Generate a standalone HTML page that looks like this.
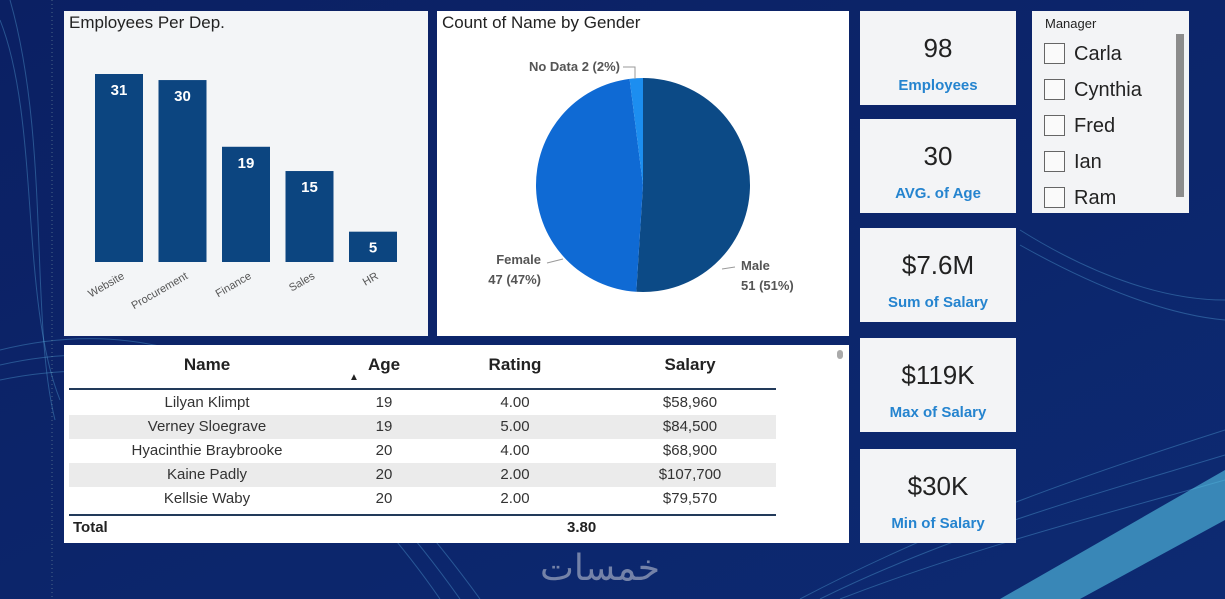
<!DOCTYPE html>
<html><head><meta charset="utf-8">
<style>
*{margin:0;padding:0;box-sizing:border-box}
body{width:1225px;height:599px;overflow:hidden;background:#0d2467;font-family:"Liberation Sans","Noto Sans CJK SC",sans-serif;position:relative}
.p{position:absolute}
.panel{background:#f3f5f7}
.kpi{position:absolute;left:860px;width:156px;height:94px;background:#f3f4f6;text-align:center}
.kpi .v{font-size:26px;color:#222;margin-top:22px;line-height:30px}
.kpi .l{font-size:15px;font-weight:bold;color:#2584cf;margin-top:14px}
.row{position:absolute;left:69px;width:707px;height:24px;font-size:15px;color:#333}
.row span{position:absolute;top:3px;transform:translateX(-50%);white-space:nowrap}
.cb{position:absolute;left:1044px;width:21px;height:21px;border:1.5px solid #666;background:#fafafa}
.cbl{position:absolute;left:1074px;font-size:20px;color:#222}
</style></head><body>
<svg class="p" style="left:0;top:0" width="1225" height="599">
<defs><linearGradient id="bg" x1="0" y1="0" x2="1" y2="1"><stop offset="0" stop-color="#0b2063"/><stop offset="1" stop-color="#0d2a72"/></linearGradient></defs>
<rect width="1225" height="599" fill="url(#bg)"/>
<g fill="none" stroke="#5fb4e6" stroke-opacity="0.35" stroke-width="1">
<path d="M0 350 C200 300 350 420 480 599"/><path d="M0 365 C200 320 340 430 460 599"/><path d="M0 380 C190 340 330 440 440 599"/>
<path d="M0 20 C40 120 20 300 60 400"/><path d="M10 0 C50 140 30 320 55 420"/>
<path d="M800 599 C950 520 1100 470 1225 430"/><path d="M820 599 C960 530 1110 490 1225 455"/><path d="M840 599 C980 545 1120 510 1225 480"/>
<path d="M1020 230 C1100 280 1170 300 1225 300"/><path d="M1020 245 C1100 290 1170 315 1225 320"/>
</g>
<path d="M1000 599 L1225 470 L1225 520 L1080 599Z" fill="#57c7e6" opacity="0.6"/>
<line x1="52" y1="0" x2="52" y2="599" stroke="#8aa" stroke-dasharray="1 3" stroke-opacity="0.5"/>
</svg>

<div class="p panel" style="left:64px;top:11px;width:364px;height:325px"></div>
<div class="p" style="left:69px;top:13px;font-size:17px;color:#222">Employees Per Dep.</div>
<svg id="bars" class="p" style="left:64px;top:11px" width="364" height="325"></svg>

<div class="p" style="left:437px;top:11px;width:412px;height:325px;background:#fff"></div>
<div class="p" style="left:442px;top:13px;font-size:17px;color:#222">Count of Name by Gender</div>
<svg id="pie" class="p" style="left:437px;top:11px" width="412" height="325"></svg>

<div class="p" style="left:64px;top:345px;width:785px;height:198px;background:#fff">
<div class="p" style="left:773px;top:5px;width:6px;height:9px;border-radius:3px;background:#aaa"></div>
</div>
<div class="row" style="top:352px;font-weight:bold;font-size:17px;color:#222">
<span style="left:138px">Name</span><span style="left:315px">Age</span><span style="left:446px">Rating</span><span style="left:621px">Salary</span>
<span style="left:285px;top:20px;font-size:10px">▲</span></div>
<div class="p" style="left:69px;top:388px;width:707px;height:2px;background:#223a5a"></div>
<div class="row" style="top:391px"><span style="left:138px">Lilyan Klimpt</span><span style="left:315px">19</span><span style="left:446px">4.00</span><span style="left:621px">$58,960</span></div>
<div class="row" style="top:415px;background:#ebebeb"><span style="left:138px">Verney Sloegrave</span><span style="left:315px">19</span><span style="left:446px">5.00</span><span style="left:621px">$84,500</span></div>
<div class="row" style="top:439px"><span style="left:138px">Hyacinthie Braybrooke</span><span style="left:315px">20</span><span style="left:446px">4.00</span><span style="left:621px">$68,900</span></div>
<div class="row" style="top:463px;background:#ebebeb"><span style="left:138px">Kaine Padly</span><span style="left:315px">20</span><span style="left:446px">2.00</span><span style="left:621px">$107,700</span></div>
<div class="row" style="top:487px"><span style="left:138px">Kellsie Waby</span><span style="left:315px">20</span><span style="left:446px">2.00</span><span style="left:621px">$79,570</span></div>
<div class="p" style="left:69px;top:514px;width:707px;height:2px;background:#223a5a"></div>
<div class="p" style="left:73px;top:519px;font-size:15px;font-weight:bold;color:#222">Total</div>
<div class="p" style="left:567px;top:519px;font-size:15px;font-weight:bold;color:#222">3.80</div>

<div class="kpi" style="top:11px"><div class="v">98</div><div class="l">Employees</div></div>
<div class="kpi" style="top:119px"><div class="v">30</div><div class="l">AVG. of Age</div></div>
<div class="kpi" style="top:228px"><div class="v">$7.6M</div><div class="l">Sum of Salary</div></div>
<div class="kpi" style="top:338px"><div class="v">$119K</div><div class="l">Max of Salary</div></div>
<div class="kpi" style="top:449px"><div class="v">$30K</div><div class="l">Min of Salary</div></div>

<div class="p" style="left:1032px;top:11px;width:157px;height:202px;background:#f3f4f6"></div>
<div class="p" style="left:1045px;top:16px;font-size:13px;color:#222">Manager</div>
<div class="p" style="left:1176px;top:34px;width:8px;height:163px;background:#8c8c8c"></div>
<div class="cb" style="top:43px"></div><div class="cbl" style="top:43px">Carla</div>
<div class="cb" style="top:79px"></div><div class="cbl" style="top:79px">Cynthia</div>
<div class="cb" style="top:115px"></div><div class="cbl" style="top:115px">Fred</div>
<div class="cb" style="top:151px"></div><div class="cbl" style="top:151px">Ian</div>
<div class="cb" style="top:187px"></div><div class="cbl" style="top:187px">Ram</div>

<div class="p" style="left:540px;top:548px;font-size:36px;color:#c9ced8;opacity:0.55;font-family:'DejaVu Sans',sans-serif">خمسات</div>

<script>
const depts=["Website","Procurement","Finance","Sales","HR"];
const counts=[31,30,19,15,5];
const genders=["Male","Female","No Data"];
const genderCounts=[51,47,2];
const genderPct=[51,47,2];
const NS="http://www.w3.org/2000/svg";
function mk(t,a,p){const e=document.createElementNS(NS,t);for(const k in a)e.setAttribute(k,a[k]);p.appendChild(e);return e;}
const bs=document.getElementById('bars');
const base=251, scale=188/31, x0=31, step=63.5, bw=48;
const yv=v=>base-v*scale;
depts.forEach((d,i)=>{
  const x=x0+i*step;
  const r=mk('rect',{x:x,y:yv(counts[i]),width:bw,height:base-yv(counts[i]),fill:'#0c4580'},bs);
  
  
  const t=mk('text',{x:x+bw/2,y:yv(counts[i])+21,'text-anchor':'middle','font-size':15,'font-weight':'bold',fill:'#fff'},bs);
  t.textContent=counts[i];
  
  
  const l=mk('text',{x:x+bw/2+6,y:base+16,'text-anchor':'end','font-size':11,fill:'#555',transform:`rotate(-30 ${x+bw/2+6} ${base+16})`},bs);
  l.textContent=d;
  
  
});
const ps=document.getElementById('pie');
const cx=206, cy=174, R=107, cols=['#0c4a86','#0f6ad4','#1c8ef0'];
const tot=genderCounts.reduce((a,b)=>a+b,0);
let a0=0;
genderCounts.forEach((c,i)=>{
  const a1=a0+c/tot*2*Math.PI;
  const p=(a)=>[cx+R*Math.sin(a),cy-R*Math.cos(a)];
  const [x1,y1]=p(a0),[x2,y2]=p(a1);
  const s=mk('path',{d:`M${cx} ${cy}L${x1} ${y1}A${R} ${R} 0 ${a1-a0>Math.PI?1:0} 1 ${x2} ${y2}Z`,fill:cols[i]},ps);
  
  
  a0=a1;
});
const lbl=[[304,259,'start',genders[0],genderCounts[0]+' ('+genderPct[0]+'%)',[285,258,298,256]],
           [104,253,'end',genders[1],genderCounts[1]+' ('+genderPct[1]+'%)',[110,252,126,248]],
           [183,60,'end',genders[2]+' '+genderCounts[2]+' ('+genderPct[2]+'%)',null,[186,56,198,56,198,68]]];
lbl.forEach(L=>{
  const t=mk('text',{x:L[0],y:L[1],'text-anchor':L[2],'font-size':13,'font-weight':'bold',fill:'#555'},ps);
  t.textContent=L[3];
  
  
  if(L[4]){const t2=mk('text',{x:L[0],y:L[1]+20,'text-anchor':L[2],'font-size':13,'font-weight':'bold',fill:'#555'},ps);t2.textContent=L[4];
  
  }
  mk('polyline',{points:L[5].join(' '),fill:'none',stroke:'#999'},ps);
});
</script>
</body></html>
